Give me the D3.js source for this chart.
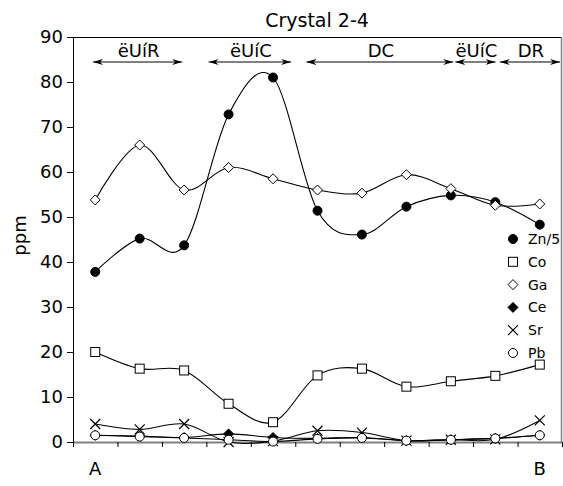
<!DOCTYPE html>
<html>
<head>
<meta charset="utf-8">
<script src="https://cdn.jsdelivr.net/npm/d3@7"></script>
<style>
  body { margin: 0; background: #fff; }
  text { font-family: "DejaVu Sans", sans-serif; fill: #000; }
</style>
</head>
<body>
<div id="container"></div>
<script>
// sample positions along the crystal, A -> B
var positions = ["A", "", "", "", "", "", "", "", "", "", "B"];
var yTicks = [0, 10, 20, 30, 40, 50, 60, 70, 80, 90];

var zn5 = [37.8, 45.2, 43.7, 72.8, 81.0, 51.4, 46.1, 52.3, 54.8, 53.3, 48.3];
var co  = [20.0, 16.3, 15.9, 8.5, 4.4, 14.8, 16.3, 12.3, 13.5, 14.7, 17.2];
var ga  = [53.8, 66.0, 56.0, 61.0, 58.5, 56.0, 55.3, 59.4, 56.3, 52.6, 52.9];
var ce  = [1.5, 1.3, 1.0, 1.8, 1.0, 0.8, 1.0, 0.3, 0.5, 0.8, 1.5];
var sr  = [4.0, 2.8, 4.0, 0.0, 0.2, 2.5, 2.1, 0.3, 0.5, 0.6, 4.8];
var pb  = [1.5, 1.2, 0.9, 0.5, 0.1, 0.7, 0.9, 0.3, 0.5, 0.8, 1.5];

var seriesNames = ["Zn/5", "Co", "Ga", "Ce", "Sr", "Pb"];
var seriesValues = [zn5, co, ga, ce, sr, pb];
var seriesSymbols = ["circleFill", "square", "diamond", "diamondFill", "cross", "circle"];

// zones along the top (start / end in position units)
var zoneLabels = ["ëUíR", "ëUíC", "DC", "ëUíC", "DR"];
var zoneStart = [0.45, 3.05, 5.25, 8.6, 9.6];
var zoneEnd   = [2.5, 4.95, 8.6, 9.55, 11.0];

var W = 563, H = 486,
    margin = {top: 37, right: 1, bottom: 44, left: 73},
    width = W - margin.left - margin.right,
    height = H - margin.top - margin.bottom;

var svg = d3.select("#container").append("svg").attr("width", W).attr("height", H);
var g = svg.append("g").attr("transform", "translate(" + margin.left + "," + margin.top + ")");

var xScale = d3.scaleLinear().domain([0, positions.length]).range([0, width]);
var yScale = d3.scaleLinear().domain([0, 90]).range([height, 0]);

// frame top + right
g.append("line").attr("x1", 0).attr("x2", width).attr("y1", 0.5).attr("y2", 0.5)
  .attr("stroke", "#000").attr("stroke-width", 1);
g.append("line").attr("x1", width - 0.5).attr("x2", width - 0.5).attr("y1", 0).attr("y2", height)
  .attr("stroke", "#808080").attr("stroke-width", 1.5);

// y axis
var yAxis = g.append("g").call(d3.axisLeft(yScale).tickValues(yTicks).tickSizeInner(6).tickSizeOuter(0).tickPadding(4));
yAxis.select(".domain").attr("stroke", "#000");
yAxis.selectAll("text").style("font-size", "18px").attr("fill", "#000");

// x axis, ticks between the samples
var xAxis = g.append("g").attr("transform", "translate(0," + height + ")")
  .call(d3.axisBottom(xScale).tickValues(d3.range(positions.length + 1)).tickFormat("").tickSizeInner(5).tickSizeOuter(0));
xAxis.select(".domain").attr("stroke", "#808080").attr("stroke-width", 2);
xAxis.selectAll(".tick line").attr("stroke", "#000");

g.selectAll(".poslabel").data(positions).enter().append("text")
  .attr("class", "poslabel")
  .attr("x", function(d, i) { return xScale(i + 0.5); })
  .attr("y", height + 33)
  .attr("text-anchor", "middle")
  .style("font-size", "18px")
  .text(function(d) { return d; });

// title + y label
svg.append("text").attr("x", 317).attr("y", 27).attr("text-anchor", "middle")
  .style("font-size", "19px").text("Crystal 2-4");
svg.append("text").attr("transform", "translate(26," + (margin.top + height / 2 - 4) + ") rotate(-90)")
  .attr("text-anchor", "middle").style("font-size", "18px").text("ppm");

// zone arrows
svg.append("defs").selectAll("marker").data(["arrEnd", "arrStart"]).enter().append("marker")
  .attr("id", function(d) { return d; })
  .attr("viewBox", "0 0 10 6").attr("refX", function(d) { return d == "arrEnd" ? 10 : 0; }).attr("refY", 3)
  .attr("markerWidth", 10).attr("markerHeight", 6).attr("markerUnits", "userSpaceOnUse")
  .attr("orient", "auto")
  .append("path")
  .attr("d", function(d) { return d == "arrEnd" ? "M0,0L10,3L0,6L3,3Z" : "M10,0L0,3L10,6L7,3Z"; })
  .attr("fill", "#000");

var zones = g.selectAll(".zone").data(zoneLabels).enter().append("g").attr("class", "zone");
zones.append("line")
  .attr("x1", function(d, i) { return xScale(zoneStart[i]); })
  .attr("x2", function(d, i) { return xScale(zoneEnd[i]) - 2; })
  .attr("y1", 25).attr("y2", 25)
  .attr("stroke", "#000").attr("stroke-width", 1)
  .attr("marker-start", "url(#arrStart)").attr("marker-end", "url(#arrEnd)");
zones.append("text")
  .attr("x", function(d, i) { return xScale((zoneStart[i] + zoneEnd[i]) / 2); })
  .attr("y", 20)
  .attr("text-anchor", "middle")
  .style("font-size", "18px")
  .text(function(d) { return d; });

// series
var line = d3.line()
  .x(function(d, i) { return xScale(i + 0.5); })
  .y(function(d) { return yScale(d); })
  .curve(d3.curveCatmullRom.alpha(0));

function drawSymbol(sel, type) {
  if (type == "circleFill" || type == "circle") {
    sel.append("circle").attr("r", 4.5)
      .attr("fill", type == "circle" ? "#fff" : "#000").attr("stroke", "#000").attr("stroke-width", 1);
  } else if (type == "square") {
    sel.append("rect").attr("x", -4.5).attr("y", -4.5).attr("width", 9).attr("height", 9)
      .attr("fill", "#fff").attr("stroke", "#000").attr("stroke-width", 1);
  } else if (type == "diamond" || type == "diamondFill") {
    sel.append("path").attr("d", "M0,-5L5,0L0,5L-5,0Z")
      .attr("fill", type == "diamond" ? "#fff" : "#000").attr("stroke", "#000").attr("stroke-width", 1);
  } else if (type == "cross") {
    sel.append("path").attr("d", "M-5,-5L5,5M-5,5L5,-5")
      .attr("fill", "none").attr("stroke", "#000").attr("stroke-width", 1.2);
  }
}

seriesValues.forEach(function(vals, s) {
  g.append("path").datum(vals)
    .attr("d", line)
    .attr("fill", "none").attr("stroke", "#000").attr("stroke-width", 1.1);
  g.selectAll(".pt" + s).data(vals).enter().append("g")
    .attr("class", "pt" + s)
    .attr("transform", function(d, i) { return "translate(" + xScale(i + 0.5) + "," + yScale(d) + ")"; })
    .each(function() { drawSymbol(d3.select(this), seriesSymbols[s]); });
});

// legend
var legend = svg.selectAll(".legend").data(seriesNames).enter().append("g")
  .attr("class", "legend")
  .attr("transform", function(d, i) { return "translate(513," + (239 + i * 22.8) + ")"; });
legend.each(function(d, i) { drawSymbol(d3.select(this), seriesSymbols[i]); });
legend.append("text").attr("x", 15).attr("y", 5).style("font-size", "14px").text(function(d) { return d; });
</script>
</body>
</html>
